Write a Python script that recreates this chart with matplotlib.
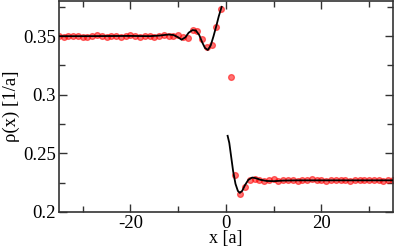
import matplotlib.pyplot as plt
import numpy as np

plt.rcParams['font.family'] = ['Liberation Serif', 'DejaVu Serif']
plt.rcParams['axes.unicode_minus'] = False

# simulation points (red circles)
x_pts = list(range(-35, 0)) + list(range(1, 36))
rho_pts = [
    0.3502, 0.3495, 0.3498, 0.3504, 0.3500, 0.3493, 0.3497, 0.3503, 0.3508, 0.3501,
    0.3496, 0.3505, 0.3499, 0.3494, 0.3502, 0.3507, 0.3500, 0.3497, 0.3504, 0.3499,
    0.3495, 0.3503, 0.3508, 0.3501, 0.3498, 0.3510, 0.3492, 0.3488,
    0.3552, 0.3540, 0.3480, 0.3405, 0.3424, 0.3576, 0.3735,
    0.3150, 0.2314, 0.2153, 0.2214, 0.2271, 0.2283,
    0.2270, 0.2266, 0.2274, 0.2279, 0.2268, 0.2272, 0.2277, 0.2270, 0.2264, 0.2275,
    0.2271, 0.2278, 0.2269, 0.2273, 0.2266, 0.2272, 0.2276, 0.2270, 0.2274, 0.2268,
    0.2271, 0.2277, 0.2269, 0.2273, 0.2270, 0.2275, 0.2268, 0.2272, 0.2271,
]

# theory curve, left and right of the interface
x_left = [-35, -30, -25, -20, -16, -14, -12, -11, -10, -9.3, -8.5, -7.8, -7.0, -6.3,
          -5.6, -5.0, -4.4, -3.8, -3.2, -2.6, -2.0, -1.5, -0.9]
rho_left = [0.3500, 0.3500, 0.3501, 0.3502, 0.3500, 0.3505, 0.3514, 0.3510, 0.3490,
            0.3470, 0.3490, 0.3530, 0.3552, 0.3548, 0.3510, 0.3450, 0.3400, 0.3382,
            0.3420, 0.3500, 0.3590, 0.3670, 0.3750]
x_right = [0.35, 0.7, 1.0, 1.5, 2.0, 2.5, 2.9, 3.4, 4.0, 4.7, 5.5, 6.3, 7.2, 8.5,
           10, 12, 15, 20, 25, 30, 35]
rho_right = [0.2650, 0.2590, 0.2500, 0.2350, 0.2240, 0.2180, 0.2163, 0.2180, 0.2230,
             0.2275, 0.2294, 0.2288, 0.2275, 0.2265, 0.2263, 0.2268, 0.2270, 0.2270,
             0.2270, 0.2270, 0.2270]

fig = plt.figure(figsize=(3.95, 2.5), dpi=100)
ax = fig.add_axes([0.149, 0.152, 0.846, 0.844])

ax.plot(x_pts, rho_pts, 'o', color='red', alpha=0.55, markersize=4.2,
        markeredgewidth=0.9, zorder=2)
ax.plot(x_left, rho_left, color='black', lw=1.3, zorder=3)
ax.plot(x_right, rho_right, color='black', lw=1.3, zorder=3)

ax.set_xlim(-35, 35)
ax.set_ylim(0.2, 0.38)
ax.set_xticks([-20, 0, 20])
ax.set_xticks([-30, -10, 10, 30], minor=True)
ax.set_yticks([0.2, 0.25, 0.3, 0.35])
ax.set_yticklabels(['0.2', '0.25', '0.3', '0.35'])
ax.set_yticks([0.225, 0.275, 0.325, 0.375], minor=True)
ax.tick_params(which='both', direction='in', top=True, right=True,
               labelsize=13.5, color='#333333', width=1)
ax.tick_params(which='major', length=6, pad=2)
ax.tick_params(which='minor', length=4)
for s in ax.spines.values():
    s.set_linewidth(1.2)
    s.set_color('#333333')

ax.set_xlabel('x [a]', fontsize=13, labelpad=-1)
ax.set_ylabel('ρ(x) [1/a]', fontsize=13.5, labelpad=2)

fig.savefig('out.png', dpi=100)
